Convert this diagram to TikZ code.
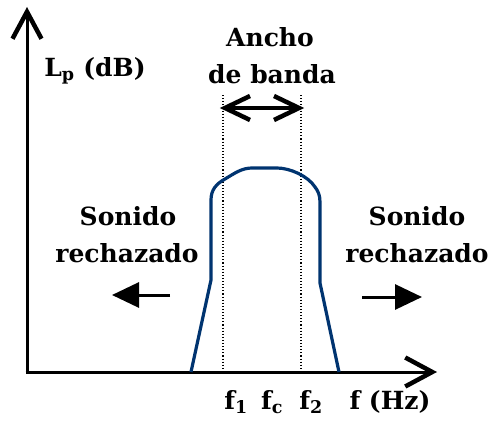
\documentclass[tikz,border=0pt]{standalone}
\usepackage{fontspec}
\setmainfont{DejaVu Serif}
\usetikzlibrary{arrows.meta}
\definecolor{curveblue}{RGB}{0,52,112}
\tikzset{
  lbl/.style={font=\bfseries\fontsize{25}{30}\selectfont, inner sep=0pt, align=center},
  axis/.style={line width=3pt, -{Straight Barb[length=27pt,width=29pt,line width=4.5pt]}},
  bwshaft/.style={line width=3.2pt},
  barb/.style={line width=4.5pt, line join=miter, line cap=butt},
  rej/.style={line width=3pt, -{Triangle[length=27pt,width=25pt]}},
  guide/.style={dotted, line width=1.1pt},
  resp/.style={curveblue, line width=3.2pt, line join=round}
}
\begin{document}
\begin{tikzpicture}[x=1pt,y=-1pt]
\useasboundingbox (0,0) rectangle (488,423);
\fill[white] (0,0) rectangle (488,423);
% axes
\coordinate (o) at (27,372);
\coordinate (ytip) at (27,7);
\coordinate (xtip) at (437,372);
\draw[axis] (o) -- (ytip);
\draw[axis] ([xshift=-1.5pt]o) -- (xtip);
% dotted guides
\coordinate (g1t) at (223,95);
\coordinate (g1b) at (223,370);
\coordinate (g2t) at (301,95);
\coordinate (g2b) at (301,370);
\draw[guide] (g1t) -- (g1b);
\draw[guide] (g2t) -- (g2b);
% bandwidth arrow
\coordinate (bwl) at (225,108);
\coordinate (bwr) at (299,108);
\draw[bwshaft] (bwl) -- (bwr);
\draw[barb] ([shift={(25,-12)}]bwl) -- (bwl) -- ([shift={(25,12)}]bwl);
\draw[barb] ([shift={(-25,-12)}]bwr) -- (bwr) -- ([shift={(-25,12)}]bwr);
% response curve
\draw[resp] (191,372) -- (211,280) -- (211,200)
  .. controls (211,190) and (216,184) .. (225,179)
  .. controls (235,173) and (242,168) .. (252,168) -- (277,168)
  .. controls (290,168) and (308,176) .. (315,187)
  .. controls (318,191) and (320,195) .. (320,202)
  -- (320,283) -- (339,372);
% labels
\node[lbl] (lp) at (95,71) {L\textsubscript{p} (dB)};
\node[lbl] (ancho) at (270,37) {Ancho};
\node[lbl] (banda) at (272,74) {de banda};
\node[lbl] (sl) at (128,216) {Sonido};
\node[lbl] (rl) at (127,253) {rechazado};
\node[lbl] (sr) at (417,216) {Sonido};
\node[lbl] (rr) at (417,253) {rechazado};
\node[lbl] (f1) at (236,402) {f\textsubscript{1}};
\node[lbl] (fc) at (272,402) {f\textsubscript{c}};
\node[lbl] (f2) at (311,402) {f\textsubscript{2}};
\node[lbl] (fhz) at (390,402) {f (Hz)};
% rejection arrows
\coordinate (lat) at (170,295);
\coordinate (lah) at (112,295);
\coordinate (rat) at (362,297);
\coordinate (rah) at (422,297);
\draw[rej] (lat) -- (lah);
\draw[rej] (rat) -- (rah);
\end{tikzpicture}
\end{document}
